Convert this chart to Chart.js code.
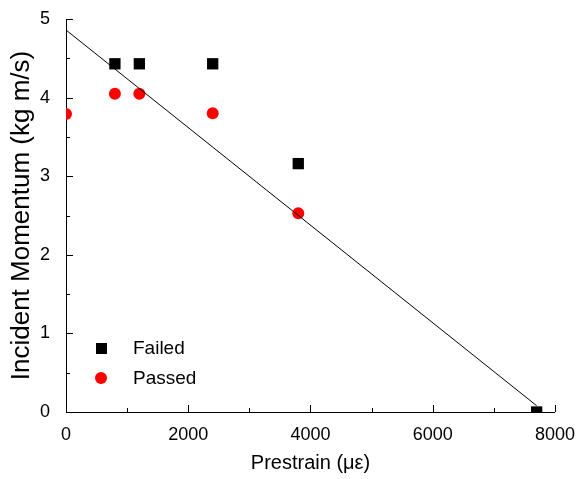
<!DOCTYPE html>
<html>
<head>
<meta charset="utf-8">
<script src="https://cdn.jsdelivr.net/npm/chart.js@4"></script>
<style>
  html, body { margin:0; padding:0; background:#fff; }
  #wrap { width:579px; height:479px; }
</style>
</head>
<body>
<div id="wrap"><canvas id="c" width="579" height="479"></canvas></div>
<script>
"use strict";

// data
const failedX = [800, 1200, 2400, 3800, 7700];
const failedY = [4.43, 4.43, 4.43, 3.16, 0];
const passedX = [0, 800, 1200, 2400, 3800];
const passedY = [3.79, 4.05, 4.05, 3.80, 2.53];
const fitX = [0, 7700];
const fitY = [4.86, 0.08];

const xTicks = [0, 2000, 4000, 6000, 8000];
const yTicks = [0, 1, 2, 3, 4, 5];

const FONT = "'Liberation Sans', Arial, sans-serif";

const pts = (xs, ys) => xs.map((x, i) => ({ x, y: ys[i] }));

// inward ticks (major + minor) and the little legend in the lower left
const decor = {
  id: "decor",
  afterDatasetsDraw(chart) {
    const { ctx, chartArea: a, scales: { x, y } } = chart;
    ctx.save();
    ctx.strokeStyle = "#000";
    ctx.lineWidth = 1;
    ctx.beginPath();
    for (let v = 0; v <= 8000; v += 1000) {
      const px = Math.round(x.getPixelForValue(v)) + 0.5;
      const len = v % 2000 === 0 ? 7 : 4;
      ctx.moveTo(px, a.bottom); ctx.lineTo(px, a.bottom - len);
    }
    for (let v = 0; v <= 5; v += 0.5) {
      const py = Math.round(y.getPixelForValue(v)) + 0.5;
      const len = v % 1 === 0 ? 7 : 4;
      ctx.moveTo(a.left, py); ctx.lineTo(a.left + len, py);
    }
    ctx.stroke();

    // legend
    ctx.fillStyle = "#000";
    ctx.fillRect(96, 343, 11, 11);
    ctx.fillStyle = "#ff0000";
    ctx.beginPath(); ctx.arc(101, 378, 6, 0, Math.PI * 2); ctx.fill();
    ctx.fillStyle = "#000";
    ctx.font = "19px " + FONT;
    ctx.textBaseline = "middle";
    ctx.fillText("Failed", 133, 349);
    ctx.fillText("Passed", 133, 379);
    ctx.restore();
  }
};

new Chart(document.getElementById("c"), {
  type: "scatter",
  data: {
    datasets: [
      { label: "fit", type: "line", data: pts(fitX, fitY), borderColor: "#000", borderWidth: 1,
        pointRadius: 0, fill: false, tension: 0 },
      { label: "Failed", data: pts(failedX, failedY), pointStyle: "rect", pointRadius: 8,
        backgroundColor: "#000", borderColor: "#000", borderWidth: 0, clip: 0 },
      { label: "Passed", data: pts(passedX, passedY), pointStyle: "circle", pointRadius: 6,
        backgroundColor: "#ff0000", borderColor: "#ff0000", borderWidth: 0, clip: 0 }
    ]
  },
  options: {
    responsive: false,
    animation: false,
    layout: { padding: { top: 19, right: 22, left: 0, bottom: 0 } },
    plugins: { legend: { display: false }, tooltip: { enabled: false } },
    scales: {
      x: {
        type: "linear", min: 0, max: 8000,
        afterBuildTicks: s => { s.ticks = xTicks.map(v => ({ value: v })); },
        afterFit: s => { s.height = 67; },
        grid: { display: false },
        border: { display: true, color: "#000", width: 1 },
        ticks: { color: "#000", font: { family: FONT, size: 18 }, padding: 4, maxRotation: 0,
                 callback: v => String(v) },
        title: { display: true, text: "Prestrain (\u03bc\u03b5)", color: "#000",
                 font: { family: FONT, size: 20 }, padding: { top: 6 } }
      },
      y: {
        type: "linear", min: 0, max: 5,
        afterBuildTicks: s => { s.ticks = yTicks.map(v => ({ value: v })); },
        afterFit: s => { s.width = 66; },
        grid: { display: false },
        border: { display: true, color: "#000", width: 1 },
        ticks: { color: "#000", font: { family: FONT, size: 18 }, padding: 8,
                 callback: v => String(v) },
        title: { display: true, text: "Incident Momentum (kg m/s)", color: "#000",
                 font: { family: FONT, size: 26 }, padding: { top: 6, bottom: 0 } }
      }
    }
  },
  plugins: [decor]
});
</script>
</body>
</html>
